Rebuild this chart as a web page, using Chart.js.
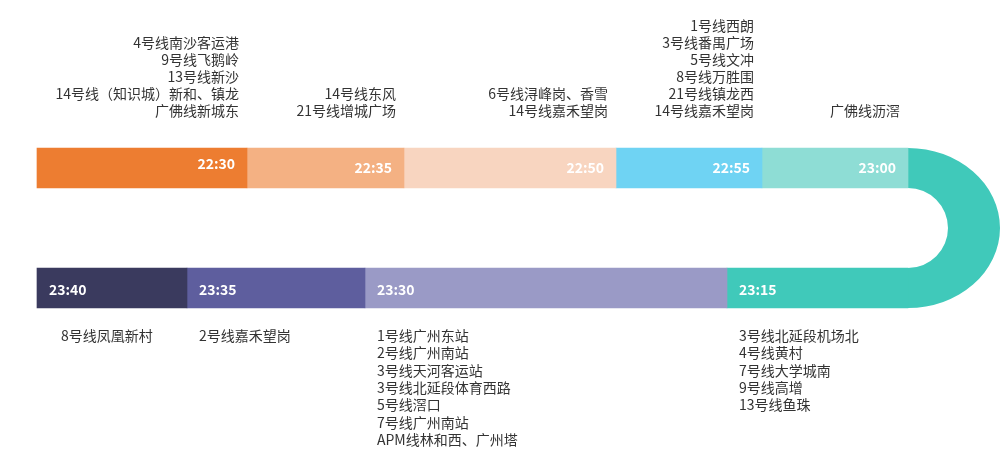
<!DOCTYPE html>
<html><head><meta charset="utf-8">
<script src="https://cdn.jsdelivr.net/npm/chart.js@4"></script>
<style>body{margin:0;background:#fff}#wrap{width:1000px;height:459px}</style>
</head><body><div id="wrap"><canvas id="c"></canvas></div>
<script>
// top row runs left to right, bottom row continues from the right back to the left
const topTimes = ['22:30', '22:35', '22:50', '22:55', '23:00'];
const topBounds = [37, 247, 404, 616, 762, 908];
const topColors = ['#ED7D31', '#F4B183', '#F8D5C0', '#6FD3F3', '#8EDDD5'];
const topStations = [
  ['4号线南沙客运港', '9号线飞鹅岭', '13号线新沙', '14号线（知识城）新和、镇龙', '广佛线新城东'],
  ['14号线东风', '21号线增城广场'],
  ['6号线浔峰岗、香雪', '14号线嘉禾望岗'],
  ['1号线西朗', '3号线番禺广场', '5号线文冲', '8号线万胜围', '21号线镇龙西', '14号线嘉禾望岗'],
  ['广佛线沥滘']
];
const bottomTimes = ['23:40', '23:35', '23:30', '23:15'];
const bottomBounds = [37, 187, 365, 727, 908];
const bottomColors = ['#3A3A5E', '#5E5E9E', '#9A9AC6', '#40C9BA'];
const bottomStations = [
  ['8号线凤凰新村'],
  ['2号线嘉禾望岗'],
  ['1号线广州东站', '2号线广州南站', '3号线天河客运站', '3号线北延段体育西路', '5号线滘口', '7号线广州南站', 'APM线林和西、广州塔'],
  ['3号线北延段机场北', '4号线黄村', '7号线大学城南', '9号线高增', '13号线鱼珠']
];
const curveColor = '#40C9BA';

const FONT = '"Noto Sans CJK SC", "Noto Sans", sans-serif';
const datasets = [];
topTimes.forEach((t, i) => datasets.push({
  label: t, data: [[topBounds[i], topBounds[i + 1]], null],
  backgroundColor: topColors[i], barThickness: 40, grouped: false, borderSkipped: false
}));
bottomTimes.forEach((t, i) => datasets.push({
  label: t, data: [null, [bottomBounds[i], bottomBounds[i + 1]]],
  backgroundColor: bottomColors[i], barThickness: 40, grouped: false, borderSkipped: false
}));

const labelPlugin = {
  id: 'labels',
  beforeDatasetsDraw(chart) {
    const {ctx, scales: {x, y}} = chart;
    const xc = x.getPixelForValue(topBounds[topBounds.length - 1]);
    const y1 = y.getPixelForValue(0), y2 = y.getPixelForValue(1);
    const cy = (y1 + y2) / 2, rOut = (y2 - y1) / 2 + 20, rIn = rOut - 40;
    ctx.save();
    ctx.fillStyle = curveColor;
    ctx.beginPath();
    ctx.ellipse(xc, cy, rOut + 12, rOut, 0, -Math.PI / 2, Math.PI / 2);
    ctx.ellipse(xc, cy, rIn, rIn, 0, Math.PI / 2, -Math.PI / 2, true);
    ctx.closePath();
    ctx.fill();
    ctx.restore();
  },
  afterDatasetsDraw(chart) {
    const {ctx, scales: {x, y}} = chart;
    const y1 = y.getPixelForValue(0), y2 = y.getPixelForValue(1);
    ctx.save();
    ctx.font = 'bold 14px ' + FONT;
    ctx.fillStyle = '#fff';
    ctx.textBaseline = 'middle';
    ctx.textAlign = 'right';
    topTimes.forEach((t, i) => ctx.fillText(t, x.getPixelForValue(topBounds[i + 1]) - 12, y1 - 4 + (i == 0 ? 0 : 4)));
    ctx.textAlign = 'left';
    bottomTimes.forEach((t, i) => ctx.fillText(t, x.getPixelForValue(bottomBounds[i]) + 12, y2 + 2));
    ctx.font = '14px ' + FONT;
    ctx.fillStyle = '#333';
    ctx.textAlign = 'right';
    ctx.textBaseline = 'alphabetic';
    topStations.forEach((lines, i) => {
      const xr = x.getPixelForValue(topBounds[i + 1]) - 8;
      lines.forEach((s, j) => ctx.fillText(s, xr, 116 - (lines.length - 1 - j) * 17));
    });
    ctx.textAlign = 'left';
    bottomStations.forEach((lines, i) => {
      const xl = x.getPixelForValue(bottomBounds[i]) + (i == 0 ? 24 : 12);
      lines.forEach((s, j) => ctx.fillText(s, xl, 341 + j * 17.3));
    });
    ctx.restore();
  }
};

new Chart(document.getElementById('c'), {
  type: 'bar',
  data: {labels: ['top', 'bottom'], datasets: datasets},
  options: {
    indexAxis: 'y', responsive: true, maintainAspectRatio: false, animation: false,
    layout: {padding: {top: 108, bottom: 111, left: 0, right: 0}},
    scales: {
      x: {type: 'linear', min: 0, max: 1000, display: false},
      y: {display: false}
    },
    plugins: {legend: {display: false}, tooltip: {enabled: false}}
  },
  plugins: [labelPlugin]
});
</script></body></html>
